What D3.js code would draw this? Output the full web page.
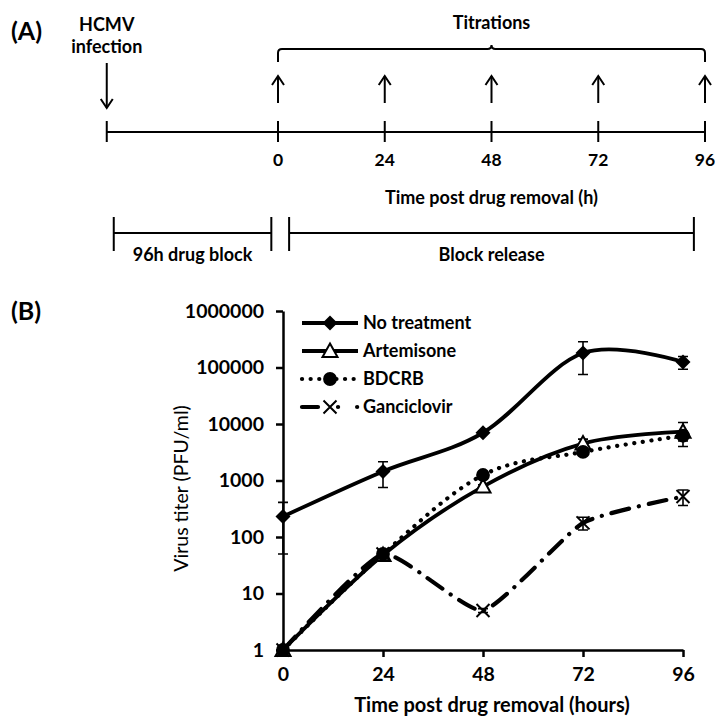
<!DOCTYPE html>
<html>
<head>
<meta charset="utf-8">
<script src="https://cdn.jsdelivr.net/npm/d3@7"></script>
<style>
  body { margin: 0; background: #fff; }
  svg { display: block; font-family: Lato, "Open Sans", sans-serif; }
  .bold { font-weight: bold; }
</style>
</head>
<body>
<svg id="chart" width="715" height="717"></svg>
<script>
// ---- data ----
const timePoints = [0, 24, 48, 72, 96];
const seriesNames = ["No treatment", "Artemisone", "BDCRB", "Ganciclovir"];
const noTreatment = [230, 1450, 7000, 180000, 125000];
const noTreatmentErr = [180, 700, 400, 105000, 32000];
const artemisone = [1, 48, 780, 4500, 7300];
const artemisoneErr = [0, 4, 60, 900, 3300];
const bdcrb = [1, 50, 1250, 3200, 6200];
const bdcrbErr = [0, 4, 100, 300, 1200];
const ganciclovir = [1, 50, 5, 178, 520];
const ganciclovirErr = [0, 4, 0.4, 45, 160];
const yTicks = [1, 10, 100, 1000, 10000, 100000, 1000000];

// timeline (panel A)
const titrationTimes = [0, 24, 48, 72, 96];
const infectionTime = -38.5; // schematic position of the infection arrow
const blockEnd = -1.5, releaseStart = 2.5, releaseEnd = 93.5;

const svg = d3.select('#chart');
svg.append('rect').attr('width', 715).attr('height', 717).attr('fill', '#fff');

// ---------------- Panel A ----------------
const gA = svg.append('g');
gA.append('text').attr('class', 'bold').attr('x', 11).attr('y', 40)
  .style('font-size', '25px').text('(A)');

const tx = d3.scaleLinear().domain([0, 96]).range([278, 705]);
const lineY = 132;

gA.append('line')
  .attr('x1', tx(infectionTime)).attr('x2', tx(96))
  .attr('y1', lineY).attr('y2', lineY)
  .attr('stroke', '#000').attr('stroke-width', 2);

gA.selectAll('.tl-tick')
  .data([infectionTime].concat(titrationTimes))
  .enter().append('line')
  .attr('x1', d => tx(d)).attr('x2', d => tx(d))
  .attr('y1', lineY - 11).attr('y2', lineY + 10)
  .attr('stroke', '#000').attr('stroke-width', 2);

gA.selectAll('.tl-label')
  .data(titrationTimes)
  .enter().append('text')
  .attr('class', 'bold')
  .attr('x', d => tx(d)).attr('y', 166)
  .attr('text-anchor', 'middle')
  .style('font-size', '17.5px')
  .text(d => d);

gA.append('text').attr('class', 'bold')
  .attr('x', tx(48)).attr('y', 204).attr('text-anchor', 'middle')
  .style('font-size', '18px').text('Time post drug removal (h)');

// up arrows for titrations
const arrow = (g, x, y1, y2) => {
  const dir = y2 < y1 ? 1 : -1;
  g.append('line').attr('x1', x).attr('x2', x).attr('y1', y1).attr('y2', y2)
    .attr('stroke', '#000').attr('stroke-width', 2);
  g.append('path')
    .attr('d', `M${x - 6},${y2 + dir * 9}L${x},${y2}L${x + 6},${y2 + dir * 9}`)
    .attr('fill', 'none').attr('stroke', '#000').attr('stroke-width', 2);
};
titrationTimes.forEach(t => arrow(gA, tx(t), 103, 76));
arrow(gA, tx(infectionTime), 63, 108);

gA.append('text').attr('class', 'bold').attr('x', tx(infectionTime)).attr('y', 31)
  .attr('text-anchor', 'middle').style('font-size', '18px').text('HCMV');
gA.append('text').attr('class', 'bold').attr('x', tx(infectionTime)).attr('y', 53)
  .attr('text-anchor', 'middle').style('font-size', '18px').text('infection');

// brace over titrations
const bx0 = tx(0), bx1 = tx(96), bm = tx(48), by = 49;
gA.append('path')
  .attr('d', `M${bx0},${by + 13}L${bx0},${by + 4}Q${bx0},${by} ${bx0 + 4},${by}` +
    `L${bm - 4},${by}Q${bm},${by} ${bm},${by - 4}Q${bm},${by} ${bm + 4},${by}` +
    `L${bx1 - 4},${by}Q${bx1},${by} ${bx1},${by + 4}L${bx1},${by + 13}`)
  .attr('fill', 'none').attr('stroke', '#000').attr('stroke-width', 2);
gA.append('text').attr('class', 'bold').attr('x', bm).attr('y', 29)
  .attr('text-anchor', 'middle').style('font-size', '18px').text('Titrations');

// bottom brackets
const bracket = (x0, x1, label) => {
  const y = 233;
  gA.append('path')
    .attr('d', `M${x0},${y - 16}V${y + 18}M${x0},${y}H${x1}M${x1},${y - 16}V${y + 18}`)
    .attr('fill', 'none').attr('stroke', '#000').attr('stroke-width', 2);
  gA.append('text').attr('class', 'bold').attr('x', (x0 + x1) / 2).attr('y', 261)
    .attr('text-anchor', 'middle').style('font-size', '18px').text(label);
};
bracket(tx(infectionTime) + 7, tx(blockEnd), '96h drug block');
bracket(tx(releaseStart), tx(releaseEnd), 'Block release');

// ---------------- Panel B ----------------
const gB = svg.append('g');
gB.append('text').attr('class', 'bold').attr('x', 11).attr('y', 320)
  .style('font-size', '25px').text('(B)');

const x = d3.scaleLinear().domain([0, 96]).range([283, 683]);
const y = d3.scaleLog().domain([1, 1000000]).range([650, 311]);

const xAxis = gB.append('g')
  .attr('transform', `translate(0,${y(1)})`)
  .call(d3.axisBottom(x).tickValues(timePoints).tickSize(7).tickPadding(10).tickSizeOuter(0));
const yAxis = gB.append('g')
  .attr('transform', `translate(${x(0)},0)`)
  .call(d3.axisLeft(y).tickValues(yTicks).tickFormat(d3.format('d')).tickSize(7).tickPadding(12).tickSizeOuter(0));
[xAxis, yAxis].forEach(a => {
  a.selectAll('path, line').attr('stroke', '#000').attr('stroke-width', 2.5);
  a.selectAll('text').attr('class', 'bold').style('font-size', '19.5px')
    .style('font-family', 'Lato, sans-serif').attr('fill', '#000');
});

gB.append('text').attr('class', 'bold')
  .attr('x', 492).attr('y', 712).attr('text-anchor', 'middle')
  .style('font-size', '20px').text('Time post drug removal (hours)');
gB.append('text')
  .attr('transform', `translate(188,${(y(1) + y(1000000)) / 2 + 8}) rotate(-90)`)
  .attr('text-anchor', 'middle').style('font-size', '19.5px')
  .text('Virus titer (PFU/ml)');

const series = [
  { name: seriesNames[0], values: noTreatment, err: noTreatmentErr, dash: null, marker: 'diamond', tension: 0 },
  { name: seriesNames[1], values: artemisone, err: artemisoneErr, dash: null, marker: 'triangle', tension: 0 },
  { name: seriesNames[2], values: bdcrb, err: bdcrbErr, dash: '0.1 8.5', marker: 'circle', tension: 0 },
  { name: seriesNames[3], values: ganciclovir, err: ganciclovirErr, dash: '18 10 0.1 10', marker: 'cross', tension: 0.5,
    legendDash: '16 20 0.1 19 0.1 100' }
];

const symbolPath = {
  diamond: 'M0,-7.5L7.5,0L0,7.5L-7.5,0Z',
  triangle: 'M0,-7.5L7.5,6L-7.5,6Z',
  circle: d3.symbol().type(d3.symbolCircle).size(150)(),
  cross: 'M-6.5,-6.5L6.5,6.5M-6.5,6.5L6.5,-6.5'
};
const drawMarker = (g, kind, cx, cy) => {
  const p = g.append('path').attr('d', symbolPath[kind])
    .attr('transform', `translate(${cx},${cy})`);
  if (kind === 'triangle') p.attr('fill', '#fff').attr('stroke', '#000').attr('stroke-width', 2);
  else if (kind === 'cross') p.attr('fill', 'none').attr('stroke', '#000').attr('stroke-width', 2);
  else p.attr('fill', '#000');
};

// lines
series.forEach(s => {
  const pts = timePoints.map((t, i) => ({ t: t, v: s.values[i] }));
  const line = d3.line()
    .x(d => x(d.t)).y(d => y(d.v))
    .curve(d3.curveCardinal.tension(s.tension));
  gB.append('path').datum(pts)
    .attr('d', line)
    .attr('fill', 'none').attr('stroke', '#000')
    .attr('stroke-width', s.dash ? 4.2 : 3.8)
    .attr('stroke-linecap', s.dash ? 'round' : 'butt')
    .attr('stroke-dasharray', s.dash);
});

// error bars
series.forEach(s => {
  timePoints.forEach((t, i) => {
    if (!s.err[i]) return;
    const lo = Math.max(1, s.values[i] - s.err[i]);
    const hi = s.values[i] + s.err[i];
    const cx = x(t);
    gB.append('path')
      .attr('d', `M${cx},${y(lo)}V${y(hi)}M${cx - 5},${y(lo)}H${cx + 5}M${cx - 5},${y(hi)}H${cx + 5}`)
      .attr('fill', 'none').attr('stroke', '#000').attr('stroke-width', 1.6);
  });
});

// markers
series.forEach(s => {
  timePoints.forEach((t, i) => drawMarker(gB, s.marker, x(t), y(s.values[i])));
});

// legend
const legend = gB.append('g').attr('transform', 'translate(302,323)');
series.forEach((s, i) => {
  const row = legend.append('g').attr('transform', `translate(0,${i * 28})`);
  row.append('line').attr('x1', 0).attr('x2', 56).attr('y1', 0).attr('y2', 0)
    .attr('stroke', '#000').attr('stroke-width', s.dash ? 4.2 : 3.8)
    .attr('stroke-linecap', s.dash ? 'round' : 'butt')
    .attr('stroke-dasharray', s.legendDash || s.dash);
  drawMarker(row, s.marker, 28, 0);
  row.append('text').attr('class', 'bold').attr('x', 61).attr('y', 6)
    .style('font-size', '18px').text(s.name);
});
</script>
</body>
</html>
